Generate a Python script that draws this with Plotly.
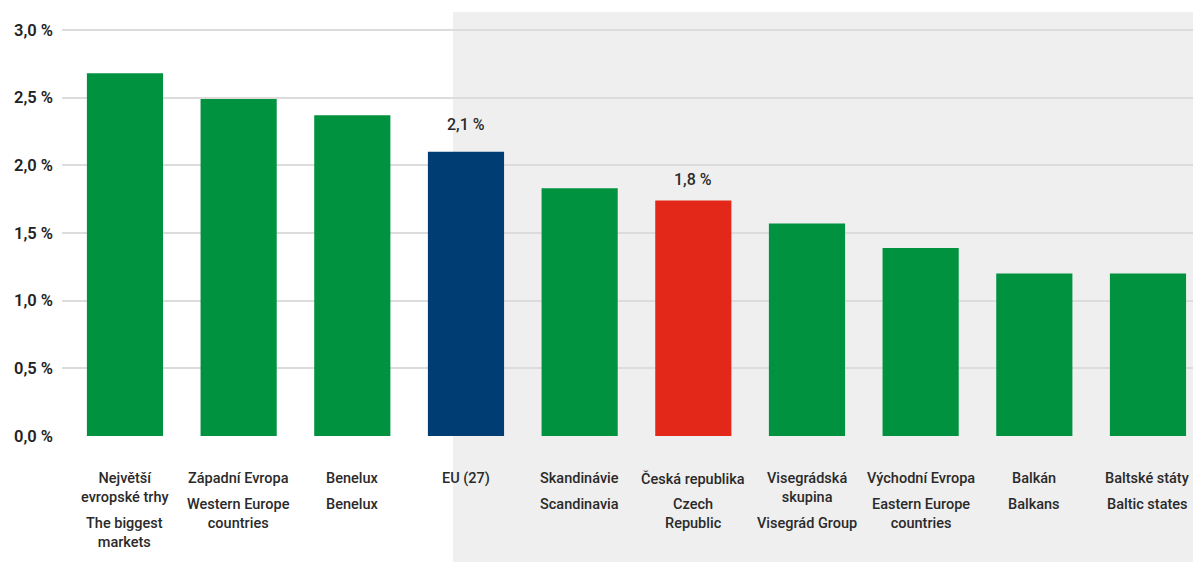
import plotly.graph_objects as go

categories_cz = ["Největší<br>evropské trhy", "Západní Evropa", "Benelux", "EU (27)", "Skandinávie",
                 "Česká republika", "Visegrádská<br>skupina", "Východní Evropa", "Balkán", "Baltské státy"]
categories_en = ["The biggest<br>markets", "Western Europe<br>countries", "Benelux", "", "Scandinavia",
                 "Czech<br>Republic", "Visegrád Group", "Eastern Europe<br>countries", "Balkans", "Baltic states"]
values = [2.68, 2.49, 2.37, 2.10, 1.83, 1.74, 1.57, 1.39, 1.20, 1.20]
colors = ["#00923F"] * 3 + ["#003D73", "#00923F", "#E32718"] + ["#00923F"] * 4
value_labels = {3: "2,1 %", 5: "1,8 %"}
tick_vals = [0, 0.5, 1.0, 1.5, 2.0, 2.5, 3.0]
tick_text = ["0,0 %", "0,5 %", "1,0 %", "1,5 %", "2,0 %", "2,5 %", "3,0 %"]

x = list(range(len(values)))
FONT = "Roboto"
label_shift = {3: 16, 5: 10}

fig = go.Figure(go.Bar(x=x, y=values, marker=dict(color=colors, line=dict(width=0)), width=0.67,
                       hoverinfo="skip"))

# plot area geometry: 1193x562, left 62, right 0, top 12, bottom 126
plot_h = 562 - 12 - 126

annotations = []
for i in x:
    n_cz = categories_cz[i].count("<br>") + 1
    top_cz = 468
    annotations.append(dict(x=i, y=-(top_cz - 436) / plot_h, xref="x", yref="paper", yanchor="top",
                            text=categories_cz[i], showarrow=False, align="center",
                            font=dict(family=FONT, size=14.5, color="#2a2a2a", weight=500)))
    if categories_en[i]:
        top_en = top_cz + n_cz * 19 + 7
        annotations.append(dict(x=i, y=-(top_en - 436) / plot_h, xref="x", yref="paper", yanchor="top",
                                text=categories_en[i], showarrow=False, align="center",
                                font=dict(family=FONT, size=14.5, color="#2a2a2a", weight=500)))
for i, t in value_labels.items():
    annotations.append(dict(x=i, y=values[i], xref="x", yref="y", yanchor="bottom", yshift=label_shift[i],
                            text=t, showarrow=False,
                            font=dict(family=FONT, size=16, color="#2a2a2a", weight=500)))

fig.update_layout(
    width=1193, height=562,
    margin=dict(l=62, r=0, t=12, b=126),
    paper_bgcolor="white", plot_bgcolor="rgba(0,0,0,0)",
    showlegend=False,
    bargap=0.33,
    annotations=annotations,
    shapes=[dict(type="rect", xref="paper", yref="paper", x0=(453 - 62) / 1131, x1=1.0,
                 y0=-126 / plot_h, y1=1.0, fillcolor="#EFEFEF", line=dict(width=0), layer="below")],
    xaxis=dict(range=[-0.554, 9.396], showticklabels=False, showgrid=False, zeroline=False,
               showline=False, ticks=""),
    yaxis=dict(range=[0, 3.133], tickvals=tick_vals, ticktext=tick_text, showgrid=True,
               gridcolor="#DCDCDC", gridwidth=1.5, zeroline=False, showline=False, ticks="",
               ticklabelstandoff=8,
               tickfont=dict(family=FONT, size=16.5, color="#222222", weight=600)),
)

fig.write_html("out.html")
